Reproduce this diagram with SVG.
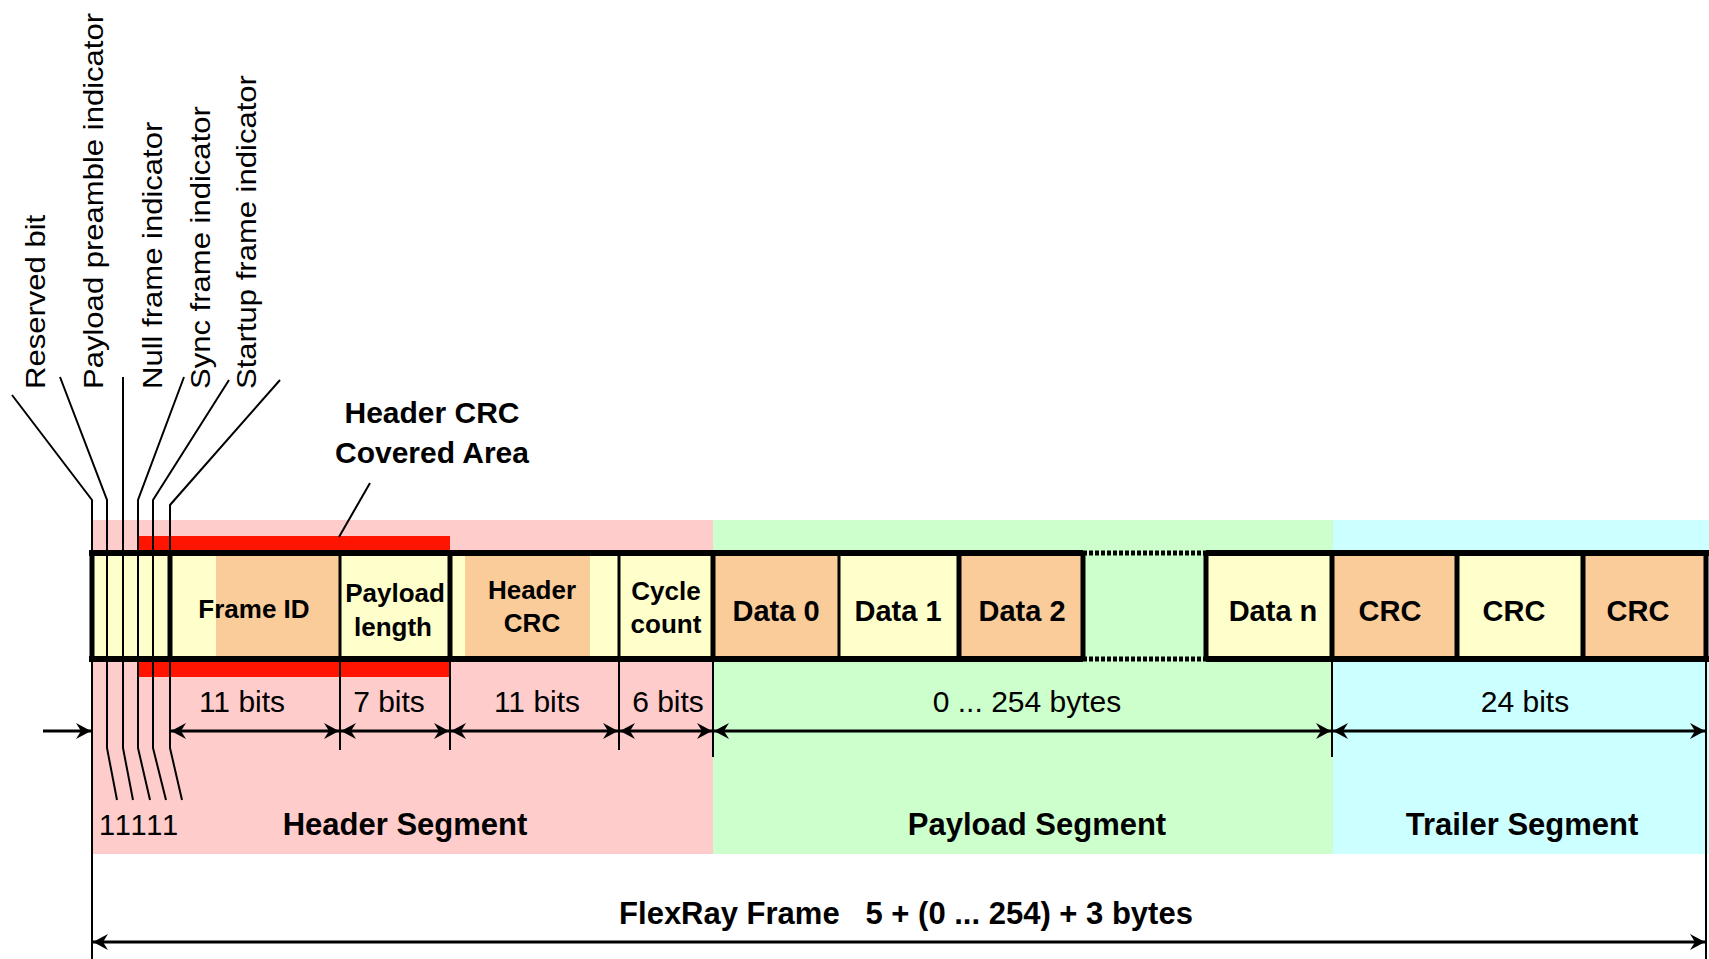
<svg xmlns="http://www.w3.org/2000/svg" width="1709" height="959" viewBox="0 0 1709 959">
<style>
text{font-family:"Liberation Sans",Arial,sans-serif;fill:#000}
.b{font-weight:bold}
.c{text-anchor:middle}
.lbl{font-size:27px}
.cell{font-size:26px;font-weight:bold;text-anchor:middle}
.big{font-size:29px;font-weight:bold;text-anchor:middle}
.dim{font-size:30px;text-anchor:middle}
.seg{font-size:31px;font-weight:bold;text-anchor:middle}
.y{fill:#FFFFCC}
.o{fill:#FACC99}
.thin{stroke:#000;stroke-width:2;fill:none}
.div{stroke:#000;stroke-width:3}
.thk{stroke:#000;stroke-width:5}
.dl{stroke:#000;stroke-width:3;fill:none;marker-start:url(#ah);marker-end:url(#ah)}
</style>
<defs>
<marker id="ah" viewBox="-16 -9 18 18" refX="0" refY="0" markerWidth="18" markerHeight="18" markerUnits="userSpaceOnUse" orient="auto-start-reverse">
<path d="M0,0 L-15,-8 L-10,0 L-15,8 Z" fill="#000"/>
</marker>
</defs>

<g id="backgrounds">
<rect x="92" y="520" width="621" height="334" fill="#FFCCCC"/>
<rect x="713" y="520" width="620" height="334" fill="#CCFFCC"/>
<rect x="1333" y="520" width="376" height="334" fill="#CCFFFF"/>
</g>

<g id="crc-covered-area">
<rect x="138" y="536" width="312" height="141" fill="#FF1400"/>
</g>

<g id="flags">
<rect x="92" y="553" width="78" height="106" class="y"/>
</g>
<g id="frame-id">
<rect x="170" y="553" width="170" height="106" class="y"/>
<rect x="216" y="553" width="124" height="106" class="o"/>
<text class="cell" x="254" y="618">Frame ID</text>
</g>
<g id="payload-length">
<rect x="340" y="553" width="110" height="106" class="y"/>
<text class="cell" x="395" y="602">Payload</text>
<text class="cell" x="393" y="636">length</text>
</g>
<g id="header-crc">
<rect x="450" y="553" width="169" height="106" class="y"/>
<rect x="465" y="553" width="125" height="106" class="o"/>
<text class="cell" x="532" y="599">Header</text>
<text class="cell" x="532" y="632">CRC</text>
</g>
<g id="cycle-count">
<rect x="619" y="553" width="94" height="106" class="y"/>
<text class="cell" x="666" y="600">Cycle</text>
<text class="cell" x="666" y="633">count</text>
</g>
<g id="data0">
<rect x="713" y="553" width="126" height="106" class="o"/>
<text class="big" x="776" y="621">Data 0</text>
</g>
<g id="data1">
<rect x="839" y="553" width="120" height="106" class="y"/>
<text class="big" x="898" y="621">Data 1</text>
</g>
<g id="data2">
<rect x="959" y="553" width="124" height="106" class="o"/>
<text class="big" x="1022" y="621">Data 2</text>
</g>
<g id="datan">
<rect x="1206" y="553" width="126" height="106" class="y"/>
<text class="big" x="1273" y="621">Data n</text>
</g>
<g id="crc1">
<rect x="1332" y="553" width="125" height="106" class="o"/>
<text class="big" x="1390" y="621">CRC</text>
</g>
<g id="crc2">
<rect x="1457" y="553" width="126" height="106" class="y"/>
<text class="big" x="1514" y="621">CRC</text>
</g>
<g id="crc3">
<rect x="1583" y="553" width="123" height="106" class="o"/>
<text class="big" x="1638" y="621">CRC</text>
</g>

<g id="frame-outline">
<path d="M89,553 H1083 M1206,553 H1709 M89,659 H1083 M1206,659 H1709" stroke="#000" stroke-width="6" fill="none"/>
<path d="M1083,553 H1206 M1083,659 H1206" stroke="#000" stroke-width="5" stroke-dasharray="4,2" fill="none"/>
<path d="M92,553 V659 M1706,553 V659 M170,553 V659 M450,553 V659 M713,553 V659 M959,553 V659 M1083,553 V659 M1206,553 V659 M1332,553 V659 M1457,553 V659 M1583,553 V659" class="thk"/>
<path d="M340,553 V659 M619,553 V659 M839,553 V659" class="div"/>
</g>

<g id="labels">
<text class="lbl" transform="translate(45,389) rotate(-90) scale(1.15,1)">Reserved bit</text>
<text class="lbl" transform="translate(103,389) rotate(-90) scale(1.15,1)">Payload preamble indicator</text>
<text class="lbl" transform="translate(162,389) rotate(-90) scale(1.15,1)">Null frame indicator</text>
<text class="lbl" transform="translate(210,389) rotate(-90) scale(1.15,1)">Sync frame indicator</text>
<text class="lbl" transform="translate(256,389) rotate(-90) scale(1.15,1)">Startup frame indicator</text>
<text class="b c" style="font-size:30px" x="432" y="423">Header CRC</text>
<text class="b c" style="font-size:30px" x="432" y="463">Covered Area</text>
<text class="dim" x="242" y="712">11 bits</text>
<text class="dim" x="389" y="712">7 bits</text>
<text class="dim" x="537" y="712">11 bits</text>
<text class="dim" x="668" y="712">6 bits</text>
<text class="dim" x="1027" y="712">0 ... 254 bytes</text>
<text class="dim" x="1525" y="712">24 bits</text>
<text style="font-size:29px;letter-spacing:1.8px" x="99" y="835">11111</text>
<text class="seg" x="405" y="835">Header Segment</text>
<text class="seg" x="1037" y="835">Payload Segment</text>
<text class="seg" x="1522" y="835">Trailer Segment</text>
<text class="seg" x="906" y="924" xml:space="preserve">FlexRay Frame   5 + (0 ... 254) + 3 bytes</text>
</g>

<g id="connectors">
<path class="thin" d="M12,395 L92,500 V959"/>
<path class="thin" d="M60,377 L107,500 V748 L117,800"/>
<path class="thin" d="M123,377 V748 L133,800"/>
<path class="thin" d="M184,377 L138,500 V748 L150,800"/>
<path class="thin" d="M229,380 L153,500 V748 L166,800"/>
<path class="thin" d="M280,380 L170,505 V748 L182,800"/>
<path class="thin" d="M370,483 L339,537"/>
<path class="thin" d="M340,659 V750 M450,659 V750 M619,659 V750 M713,659 V757 M1332,659 V757 M1706,659 V959"/>
<line class="dl" x1="171" y1="731" x2="339" y2="731"/>
<line class="dl" x1="341" y1="731" x2="449" y2="731"/>
<line class="dl" x1="451" y1="731" x2="618" y2="731"/>
<line class="dl" x1="620" y1="731" x2="712" y2="731"/>
<line class="dl" x1="714" y1="731" x2="1331" y2="731"/>
<line class="dl" x1="1333" y1="731" x2="1705" y2="731"/>
<line x1="43" y1="731" x2="91" y2="731" stroke="#000" stroke-width="3" marker-end="url(#ah)"/>
<line class="dl" x1="93" y1="942" x2="1705" y2="942"/>
</g>
</svg>
